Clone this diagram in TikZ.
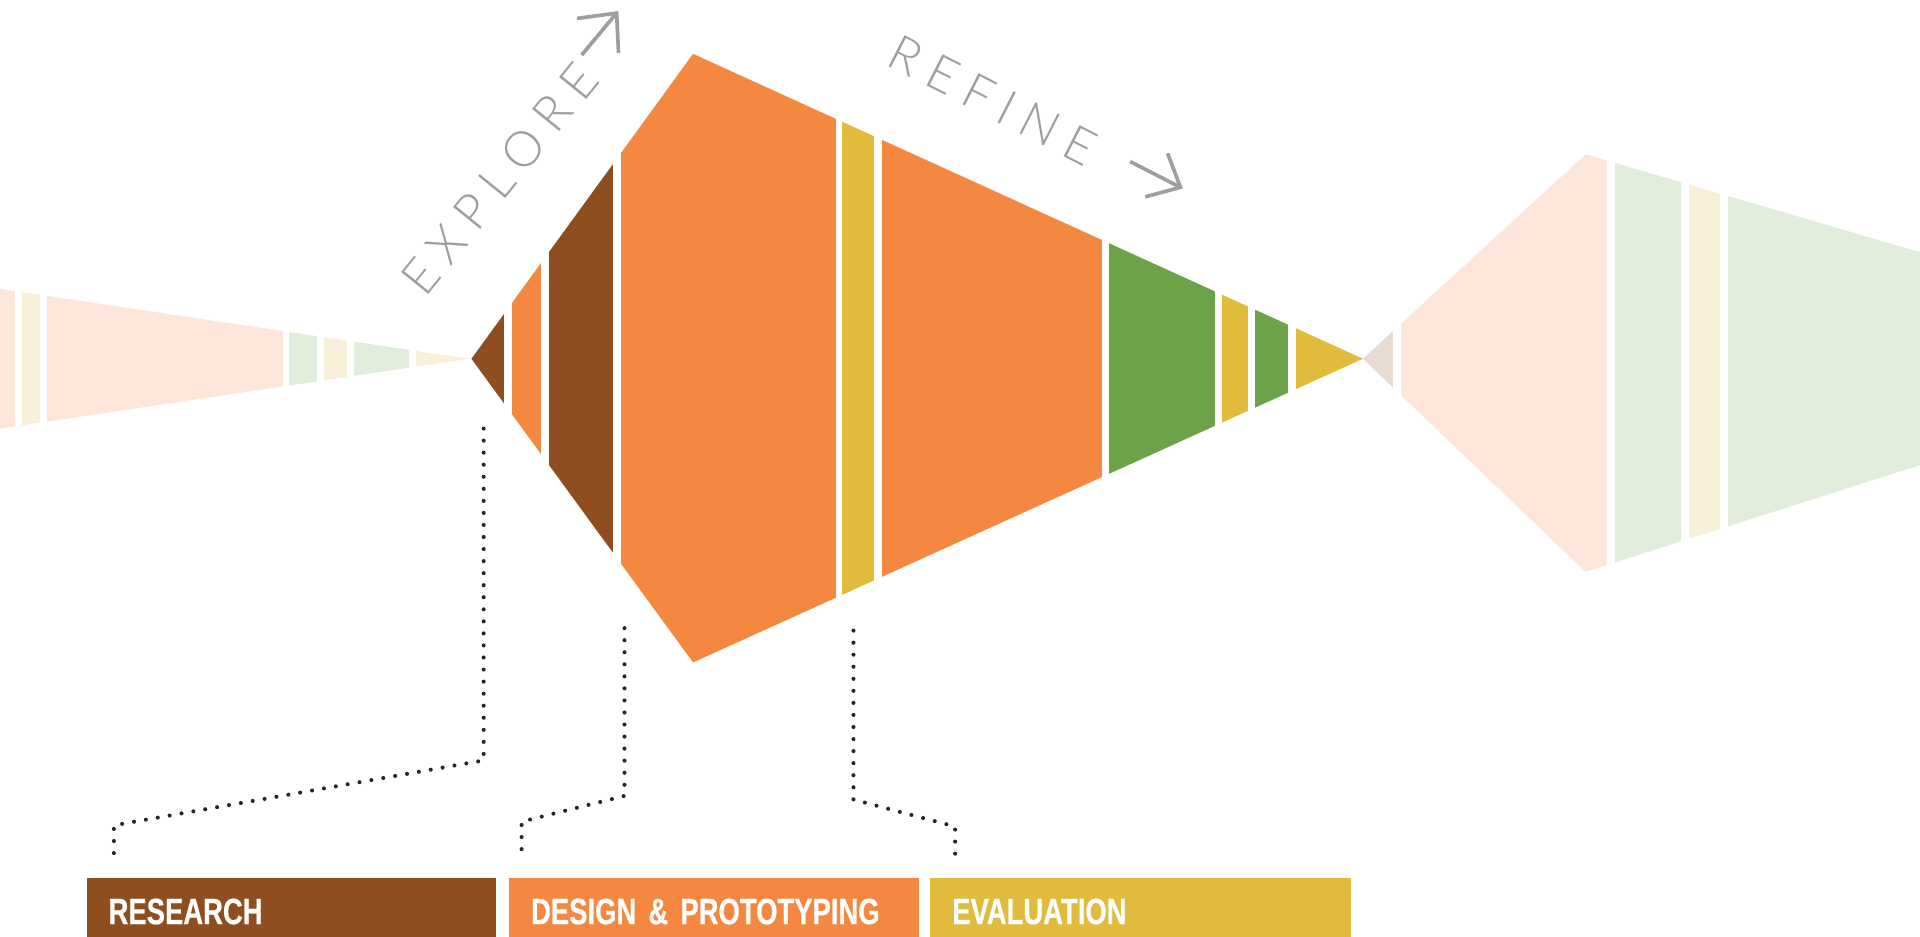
\documentclass[tikz,border=0pt]{standalone}
\usepackage{fontspec}
\usepackage{xcolor}
\usetikzlibrary{arrows.meta,positioning}
\newfontfamily\thinfont[LetterSpace=24]{Lato Light}
\newfontfamily\boxfont[FakeStretch=0.75, BoldFeatures={FakeBold=0.5}]{Liberation Sans}
\definecolor{resbrown}{RGB}{143,78,32}
\definecolor{desorange}{RGB}{244,136,64}
\definecolor{evalyellow}{RGB}{224,187,60}
\definecolor{testgreen}{RGB}{108,163,72}
\definecolor{fadepink}{RGB}{253,229,217}
\definecolor{fadegreen}{RGB}{225,236,218}
\definecolor{fadecream}{RGB}{249,240,218}
\definecolor{fadetaupe}{RGB}{232,219,210}
\definecolor{labelgray}{RGB}{158,158,160}
\tikzset{
  phasebox/.style  = {rectangle, anchor=north west, inner xsep=1.8mm, inner ysep=0pt,
                      align=left, text height=3.8mm, text depth=1.1mm, text=white,
                      font=\boxfont\bfseries\fontsize{8.5pt}{8.5pt}\selectfont},
  leader/.style    = {draw=black!85, line width=0.95pt, line cap=round,
                      dash pattern=on 0pt off 2.8pt},
  modelbl/.style   = {font=\thinfont\fontsize{11.5pt}{11.5pt}\selectfont, text=labelgray,
                      inner sep=0pt},
  modearrow/.style = {draw=labelgray, line width=0.3mm,
                      -{Straight Barb[length=2.2mm,width=4mm]}},
}
\begin{document}
\begin{tikzpicture}[x=0.1mm, y=-0.1mm]
  \useasboundingbox (0,0) rectangle (1568,765);

  \begin{scope}
    \clip (-5,235.2) -- (383,293) -- (-5,350.8) -- cycle;
    \foreach \xa/\xb/\col in {-5/12/fadepink, 18/33/fadecream, 38/231/fadepink,
        236/259/fadegreen, 265/283/fadecream, 289/334/fadegreen, 340/384/fadecream}
      \fill[\col] (\xa,200) rectangle (\xb,400);
  \end{scope}

  \begin{scope}
    \clip (385,293) -- (566,44) -- (1113,293) -- (566,541) -- cycle;
    \foreach \xa/\xb/\col in {385/412/resbrown, 418/442/desorange, 448/501/resbrown,
        507/683/desorange, 688/714/evalyellow, 720/900/desorange, 906/992/testgreen,
        998/1019/evalyellow, 1025/1052/testgreen, 1058/1114/evalyellow}
      \fill[\col] (\xa,0) rectangle (\xb,600);
  \end{scope}

  \begin{scope}
    \clip (1113,293) -- (1295,126) -- (1580,209.5) -- (1580,376) -- (1295,467) -- cycle;
    \foreach \xa/\xb/\col in {1113/1138/fadetaupe, 1144/1312/fadepink,
        1319/1373/fadegreen, 1379/1405/fadecream, 1411/1580/fadegreen}
      \fill[\col] (\xa,0) rectangle (\xb,600);
  \end{scope}

  \node[modelbl, rotate=51] (explore) at (408,146) {EXPLORE};
  \coordinate (explore tail) at (475,45);
  \coordinate (explore tip)  at (505,9);
  \draw[modearrow, -{Straight Barb[length=2.4mm,width=4.4mm]}] (explore tail) -- (explore tip);

  \node[modelbl, rotate=-27] (refine) at (811,82) {REFINE};
  \coordinate (refine tail) at (923,132);
  \coordinate (refine tip)  at (966,154);
  \draw[modearrow] (refine tail) -- (refine tip);

  \node[phasebox, fill=resbrown,   text width=29.8mm] (research)   at (70,716)  {RESEARCH};
  \node[phasebox, fill=desorange,  text width=29.9mm] (design)     at (415,716) {DESIGN \& PROTOTYPING};
  \node[phasebox, fill=evalyellow, text width=30.8mm] (evaluation) at (759,716) {EVALUATION};

  \coordinate (research from) at (395,350);
  \coordinate (research to)   at (93,697);
  \coordinate (design from)   at (510,513);
  \coordinate (design to)     at (426,695);
  \coordinate (eval from)     at (697,515);
  \coordinate (eval to)       at (780,698);
  \draw[leader] (research from) -- (395,621) -- (93,674) -- (research to);
  \draw[leader] (design from) -- (510,650) -- (426,671) -- (design to);
  \draw[leader] (eval from) -- (697,653) -- (780,675) -- (eval to);
\end{tikzpicture}
\end{document}
